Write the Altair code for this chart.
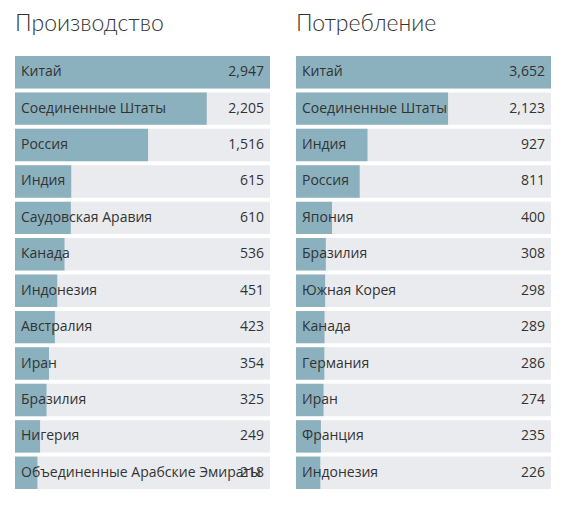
import altair as alt
import pandas as pd

prod_countries = [
    "Китай", "Соединенные Штаты", "Россия", "Индия", "Саудовская Аравия",
    "Канада", "Индонезия", "Австралия", "Иран", "Бразилия", "Нигерия",
    "Объединенные Арабские Эмираты",
]
prod_values = [2947, 2205, 1516, 615, 610, 536, 451, 423, 354, 325, 249, 218]

cons_countries = [
    "Китай", "Соединенные Штаты", "Индия", "Россия", "Япония", "Бразилия",
    "Южная Корея", "Канада", "Германия", "Иран", "Франция", "Индонезия",
]
cons_values = [3652, 2123, 927, 811, 400, 308, 298, 289, 286, 274, 235, 226]

BAR = "#8bb1bf"
BG = "#eaebee"
FONT = "Open Sans"
TXT = "#333333"


def panel(title, countries, values, lo):
    hi = max(values)
    df = pd.DataFrame({
        "country": countries,
        "value": values,
        "lo": lo,
        "hi": hi,
        "label": ["{:,}".format(v) for v in values],
    })
    xs = alt.Scale(domain=[lo, hi], nice=False, zero=False)
    ys = alt.Scale(domain=countries, paddingInner=0.11, paddingOuter=0)
    base = alt.Chart(df).encode(y=alt.Y("country:N", scale=ys, axis=None, sort=countries))

    bg = base.mark_bar(color=BG).encode(x=alt.X("lo:Q", scale=xs, axis=None), x2="hi:Q")
    bar = base.mark_bar(color=BAR).encode(x=alt.X("lo:Q", scale=xs, axis=None), x2="value:Q")
    name = base.mark_text(align="left", dx=6, font=FONT, fontSize=14, color=TXT).encode(
        x=alt.X("lo:Q", scale=xs, axis=None), text="country:N")
    num = base.mark_text(align="right", dx=-6, font=FONT, fontSize=14, color=TXT).encode(
        x=alt.X("hi:Q", scale=xs, axis=None), text="label:N")

    return alt.layer(bg, bar, name, num).properties(
        width=255, height=433,
        title=alt.TitleParams(title, anchor="start", fontSize=23, font="Lato",
                              fontWeight=300, color=TXT, offset=20),
    )


left = panel("Производство", prod_countries, prod_values, -45)
right = panel("Потребление", cons_countries, cons_values, -135)

chart = alt.hconcat(left, right, spacing=26).properties(
    padding={"left": 7, "top": 5, "right": 0, "bottom": 0}
).configure_view(stroke=None)

chart.save("out.html", embed_options={"renderer": "svg", "actions": False})
